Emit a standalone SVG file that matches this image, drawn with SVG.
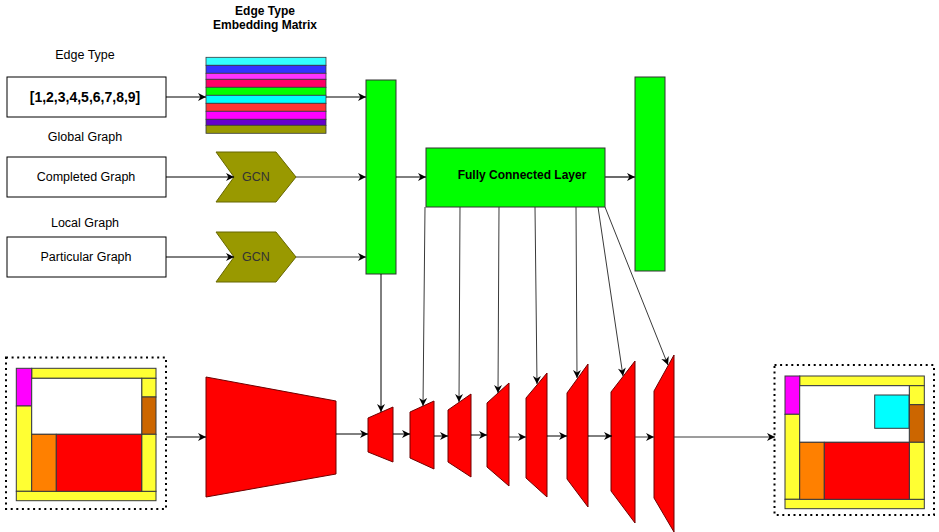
<svg xmlns="http://www.w3.org/2000/svg" width="939" height="532" viewBox="0 0 939 532">
<style>
text{font-family:"Liberation Sans",Arial,sans-serif;font-size:12.5px;fill:#000;text-anchor:middle}
.b{font-weight:bold;font-size:12px}
.box{fill:#fff;stroke:#000;stroke-width:1}
.bar{fill:#00ff00;stroke:#333;stroke-width:1}
.gcn{fill:#999900;stroke:#666600;stroke-width:1}
.trap{fill:#ff0000;stroke:#6f0000;stroke-width:1}
.dot{fill:none;stroke:#000;stroke-width:2;stroke-dasharray:2 3.6}
.fp{stroke:#36393d;stroke-width:1}
.y{fill:#ffff33}.m{fill:#ff00ff}.br{fill:#cc6600}.o{fill:#ff8000}.r{fill:#ff0000}.w{fill:#fff}.c{fill:#00ffff}
.s{stroke:#36393d;stroke-width:0.8}
.ln{fill:none;stroke:#000;stroke-width:1;marker-end:url(#arr)}
.lg{fill:none;stroke:#3a3a3a;stroke-width:1;marker-end:url(#arr)}
</style>
<defs>
<marker id="arr" viewBox="0 0 10 10" refX="10" refY="5" markerWidth="10" markerHeight="8" orient="auto" markerUnits="userSpaceOnUse">
<path d="M0,0 L10,5 L0,10 L3,5 z" fill="#000"/>
</marker>
</defs>

<g id="labels">
<text class="b" x="265" y="15">Edge Type</text>
<text class="b" x="265" y="29">Embedding Matrix</text>
<text x="85" y="59">Edge Type</text>
<text x="85" y="141">Global Graph</text>
<text x="85" y="227">Local Graph</text>
</g>

<g id="edge-type">
<rect class="box" x="7" y="77" width="159" height="40"/>
<text class="b" x="85" y="102" style="font-size:14px">[1,2,3,4,5,6,7,8,9]</text>
</g>

<g id="embedding-matrix" class="s">
<rect x="206" y="57.3" width="120" height="8" fill="#33ffff"/>
<rect x="206" y="65.3" width="120" height="8" fill="#3333ff"/>
<rect x="206" y="73.3" width="120" height="6" fill="#ff33ff"/>
<rect x="206" y="79.3" width="120" height="8" fill="#ff0066"/>
<rect x="206" y="87.3" width="120" height="8" fill="#00ff00"/>
<rect x="206" y="95.3" width="120" height="8" fill="#00ffff"/>
<rect x="206" y="103.3" width="120" height="8" fill="#ff3333"/>
<rect x="206" y="111.3" width="120" height="8" fill="#ff00ff"/>
<rect x="206" y="119.3" width="120" height="6" fill="#6600cc"/>
<rect x="206" y="125.3" width="120" height="8" fill="#999900"/>
</g>

<g id="completed-graph">
<rect class="box" x="7" y="157" width="159" height="40"/>
<text x="86" y="181">Completed Graph</text>
</g>
<g id="particular-graph">
<rect class="box" x="7" y="237" width="159" height="40"/>
<text x="86" y="261">Particular Graph</text>
</g>

<g id="gcn1">
<polygon class="gcn" points="216,152 276,152 296,177 276,202 216,202 234,177"/>
<text x="256" y="181" style="fill:#333">GCN</text>
</g>
<g id="gcn2">
<polygon class="gcn" points="216,232 276,232 296,257 276,282 216,282 234,257"/>
<text x="256" y="261" style="fill:#333">GCN</text>
</g>

<g id="concat-bar"><rect class="bar" x="366" y="80" width="30" height="194"/></g>
<g id="fc-layer">
<rect class="bar" x="426" y="148" width="179" height="59"/>
<text class="b" x="522" y="179">Fully Connected Layer</text>
</g>
<g id="output-bar"><rect class="bar" x="635" y="77" width="30" height="194"/></g>

<g id="input-plan">
<rect class="dot" x="6" y="357.5" width="160" height="151.5"/>
<g class="fp">
<rect class="y" x="31.7" y="368.3" width="124.3" height="10"/>
<rect class="m" x="16.3" y="368.3" width="15.4" height="37.7"/>
<rect class="y" x="16.3" y="406" width="15.4" height="85.3"/>
<rect class="y" x="16.3" y="491.3" width="139.7" height="9.4"/>
<rect class="y" x="141.7" y="378.3" width="14.3" height="18.7"/>
<rect class="br" x="141.7" y="397" width="14.3" height="37.3"/>
<rect class="y" x="141.7" y="434.3" width="14.3" height="57"/>
<rect class="w" x="31.7" y="378.3" width="110" height="56"/>
<rect class="o" x="31.7" y="434.3" width="24.6" height="57"/>
<rect class="r" x="56.3" y="434.3" width="85.4" height="57"/>
</g>
</g>

<g id="encoder"><polygon class="trap" points="206,377 336,401 336,474 206,497"/></g>
<g id="decoder1"><polygon class="trap" points="368,418 393,407 393,462 368,452"/></g>
<g id="decoder2"><polygon class="trap" points="410,412 434,401 434,469 410,458"/></g>
<g id="decoder3"><polygon class="trap" points="448,410 471,394 471,477 448,462"/></g>
<g id="decoder4"><polygon class="trap" points="487,403 509,383 509,486 487,467"/></g>
<g id="decoder5"><polygon class="trap" points="526,398 547,373 547,497 526,478"/></g>
<g id="decoder6"><polygon class="trap" points="567,393 588,364 588,507 567,479"/></g>
<g id="decoder7"><polygon class="trap" points="611,392 635,361 635,523 611,491"/></g>
<g id="decoder8"><polygon class="trap" points="654,391 674,355 674,532 654,498"/></g>

<g id="output-plan">
<rect class="dot" x="774.5" y="365" width="159.5" height="150"/>
<g class="fp">
<rect class="y" x="799.7" y="376" width="124.6" height="9.7"/>
<rect class="m" x="785" y="376" width="14.7" height="38.3"/>
<rect class="y" x="785" y="414.3" width="14.7" height="85"/>
<rect class="y" x="785" y="499.3" width="139.3" height="9.4"/>
<rect class="y" x="909.3" y="385.7" width="15" height="19"/>
<rect class="br" x="909.3" y="404.7" width="15" height="37.6"/>
<rect class="y" x="909.3" y="442.3" width="15" height="57"/>
<rect class="w" x="799.7" y="385.7" width="109.6" height="56.6"/>
<rect class="c" x="874.7" y="395" width="34.3" height="33.3"/>
<rect class="o" x="799.7" y="442.3" width="24.6" height="57"/>
<rect class="r" x="824.3" y="442.3" width="85" height="57"/>
</g>
</g>

<g id="connectors">
<path class="ln" d="M166,97 L206,97"/>
<path class="ln" d="M326,97 L366,97"/>
<path class="ln" d="M166,177 L234,177"/>
<path class="lg" d="M296,177 L366,177"/>
<path class="ln" d="M166,257 L234,257"/>
<path class="lg" d="M296,257 L366,257"/>
<path class="ln" d="M396,177 L426,177"/>
<path class="lg" d="M605,177 L635,177" style="stroke-width:1.5"/>
<path class="ln" d="M381,274 L381,412"/>
<path class="lg" d="M425,207 L423,406"/>
<path class="lg" d="M460,207 L459,402"/>
<path class="lg" d="M499,207 L498,393"/>
<path class="lg" d="M535,207 L537,384"/>
<path class="lg" d="M576,207 L577,378"/>
<path class="lg" d="M598,207 L623,376"/>
<path class="lg" d="M605,207 L668,365"/>
<path class="ln" d="M166,437 L206,437"/>
<path class="ln" d="M336,434 L368,434"/>
<path class="ln" d="M393,434 L410,434"/>
<path class="ln" d="M434,436 L448,436"/>
<path class="ln" d="M471,435 L487,435"/>
<path class="lg" d="M509,437 L526,437"/>
<path class="ln" d="M547,436 L567,436"/>
<path class="ln" d="M588,436 L612,436"/>
<path class="lg" d="M635,437 L654,437"/>
<path class="lg" d="M674,437 L775,437"/>
</g>
</svg>
